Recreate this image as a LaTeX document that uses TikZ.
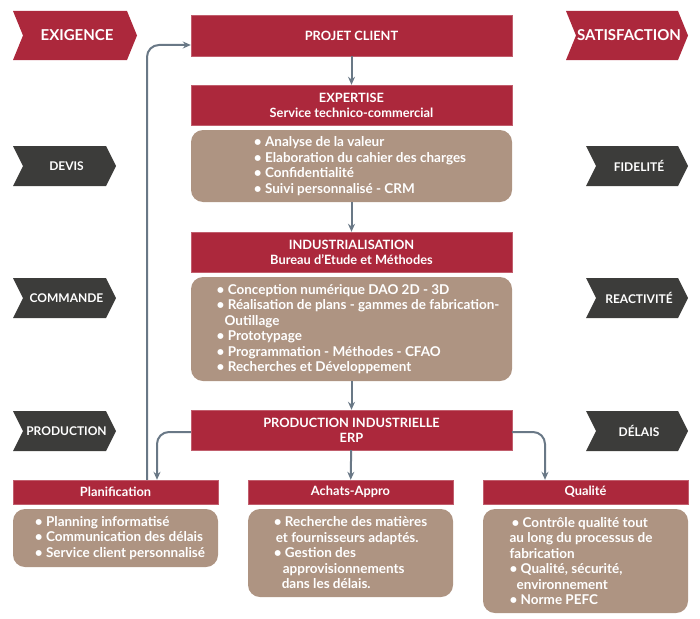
\documentclass[tikz,border=0pt]{standalone}
\usepackage{fontspec}
\setmainfont{Lato}
\usetikzlibrary{arrows.meta}
\definecolor{rouge}{RGB}{172,40,60}
\definecolor{taupe}{RGB}{174,148,130}
\definecolor{ardoise}{RGB}{60,60,58}
\definecolor{fleche}{RGB}{105,120,134}

\begin{document}
\begin{tikzpicture}[x=1pt,y=-1pt,
    titre/.style={fill=rouge,draw=rouge!75!white,text=white,inner sep=0pt,
        font=\bfseries\fontsize{12.8}{15}\selectfont,align=center},
    liste/.style={fill=taupe,rounded corners=12pt,inner sep=0pt},
    texte/.style={text=white,inner sep=0pt,
        font=\bfseries\fontsize{13.5}{15.5}\selectfont,align=left},
    lien/.style={draw=fleche,line width=2pt,rounded corners=12pt,
        -{Stealth[length=8pt,width=7pt]}}]
    \useasboundingbox (0,0) rectangle (700,618);

    % chevrons
    \foreach \g/\h/\d/\b/\nom/\mot/\teinte/\taille in {
        13/11/137/60/exigence/EXIGENCE/rouge/15,
        566/11/688/60/satisfaction/SATISFACTION/rouge/15,
        13/146/116/186/devis/DEVIS/ardoise/12,
        586/146/688/186/fidelite/FIDELITÉ/ardoise/12,
        13/278/116/318/commande/COMMANDE/ardoise/12,
        586/278/688/318/reactivite/REACTIVITÉ/ardoise/12,
        13/411/116/451/production/PRODUCTION/ardoise/12,
        586/411/688/451/delais/DÉLAIS/ardoise/12} {
        \fill[\teinte] (\g,\h) -- (\d-10,\h) -- (\d,{(\h+\b)/2}) -- (\d-10,\b)
            -- (\g,\b) -- (\g+10,{(\h+\b)/2}) -- cycle;
        \node[text=white,font=\bfseries\fontsize{\taille}{\taille}\selectfont]
            (\nom) at ({(\g+\d)/2+2},{(\h+\b)/2}) {\mot};
    }

    % colonne centrale
    \node[titre,minimum width=321pt,minimum height=41pt] (projet) at (351.5,35.5) {PROJET CLIENT};
    \node[titre,minimum width=321pt,minimum height=40pt] (expertise) at (351.5,105)
        {EXPERTISE\\Service technico-commercial};
    \node[liste,minimum width=321pt,minimum height=72pt] (liste1) at (351.5,166) {};
    \node[texte] (liste1-t) at ([xshift=8.5pt]liste1)
        {• Analyse de la valeur\\• Elaboration du cahier des charges\\• Confidentialité\\• Suivi personnalisé - CRM};
    \node[titre,minimum width=321pt,minimum height=40pt] (indus) at (351.5,252)
        {INDUSTRIALISATION\\Bureau d’Etude et Méthodes};
    \node[liste,minimum width=321pt,minimum height=104pt] (liste2) at (351.5,329) {};
    \node[texte] (liste2-t) at ([xshift=6.5pt]liste2)
        {• Conception numérique DAO 2D - 3D\\• Réalisation de plans - gammes de fabrication-\\\hspace*{8pt}Outillage\\• Prototypage\\• Programmation - Méthodes - CFAO\\• Recherches et Développement};
    \node[titre,minimum width=321pt,minimum height=40pt] (prod) at (351.5,430)
        {PRODUCTION INDUSTRIELLE\\ERP};

    % services
    \node[titre,minimum width=205pt,minimum height=24pt] (planif) at (115.5,492) {Planification};
    \node[titre,minimum width=205pt,minimum height=24pt] (achats) at (350.5,492) {Achats-Appro};
    \node[titre,minimum width=205pt,minimum height=24pt] (qualite) at (585.5,492) {Qualité};
    \node[liste,minimum width=205pt,minimum height=58pt] (lplanif) at (115.5,538) {};
    \node[texte] (lplanif-t) at ([xshift=4.5pt]lplanif)
        {• Planning informatisé\\• Communication des délais\\• Service client personnalisé};
    \node[liste,minimum width=205pt,minimum height=88pt] (lachats) at (350.5,553) {};
    \node[texte] (lachats-t) at (lachats)
        {• Recherche des matières\\\hspace*{2pt}et fournisseurs adaptés.\\• Gestion des\\\hspace*{9pt}approvisionnements\\\hspace*{8pt}dans les délais.};
    \node[liste,minimum width=205pt,minimum height=104pt] (lqualite) at (585.5,561) {};
    \node[texte] (lqualite-t) at ([xshift=-4.5pt]lqualite)
        {\hspace*{2pt}• Contrôle qualité tout\\au long du processus de\\fabrication\\• Qualité, sécurité,\\\hspace*{7pt}environnement\\• Norme PEFC};

    % fleches
    \draw[lien] (projet) -- (expertise);
    \draw[lien] (liste1) -- (indus);
    \draw[lien] (liste2) -- (prod);
    \draw[lien] (prod) -- (achats);
    \draw[lien] ([yshift=-2pt]prod.west) -| ([xshift=41.5pt]planif.north);
    \draw[lien] ([yshift=-2pt]prod.east) -| ([xshift=-40.5pt]qualite.north);
    \draw[lien] ([xshift=31.5pt]planif.north) |- ([yshift=-9.5pt]projet.west);
\end{tikzpicture}
\end{document}
